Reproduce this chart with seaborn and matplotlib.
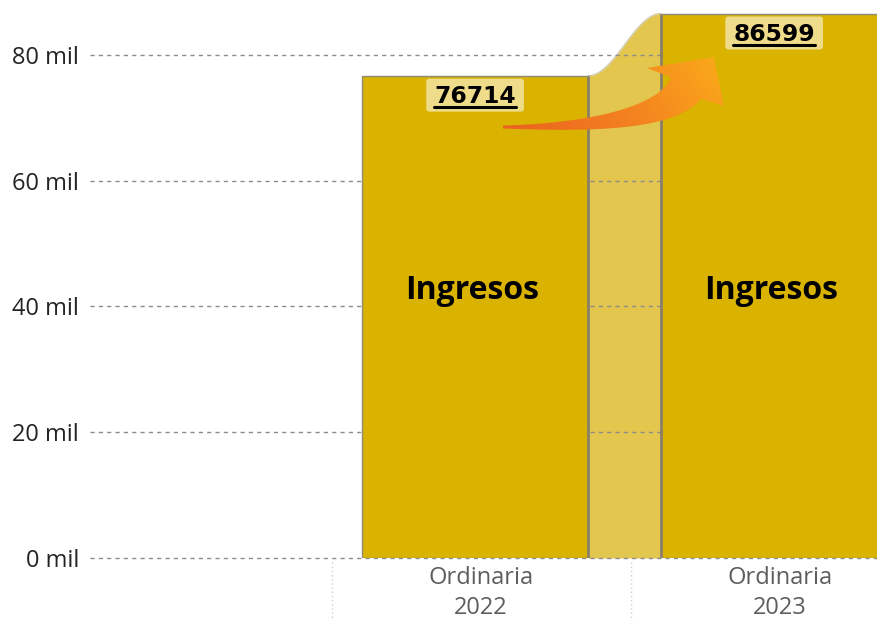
import numpy as np
import matplotlib
matplotlib.use("Agg")
import matplotlib.pyplot as plt
import seaborn as sns
from matplotlib.patches import Polygon, FancyBboxPatch
from matplotlib.colors import LinearSegmentedColormap
from matplotlib.transforms import ScaledTranslation, blended_transform_factory, IdentityTransform
from matplotlib.lines import Line2D

# data
categories = ["Ordinaria\n2022", "Ordinaria\n2023"]
ingresos = [76714, 86599]
serie = "Ingresos"
y_ticks = [0, 20000, 40000, 60000, 80000]

sns.set_theme(style="white")
plt.rcParams["font.family"] = ["Open Sans", "DejaVu Sans"]

W, H = 877, 621
fig = plt.figure(figsize=(W / 100, H / 100), dpi=100)
ax = fig.add_axes([90 / W, 63 / H, 787 / W, 558 / H])

bar_w = 0.756
sns.barplot(x=categories, y=ingresos, color="#D9B300", saturation=1,
            width=bar_w, edgecolor="#8f8a78", linewidth=1.0, ax=ax, zorder=2)

# ribbon between the two bars
x0 = 0 + bar_w / 2
x1 = 1 - bar_w / 2
t = np.linspace(0, 1, 120)
xs = x0 + (x1 - x0) * t
ys = ingresos[0] + (ingresos[1] - ingresos[0]) * (1 - np.cos(np.pi * t)) / 2
ax.fill_between(xs, 0, ys, color="#E3C64E", lw=0, zorder=0.3)
ax.plot(xs, ys, color="#c8c2a6", lw=0.8, zorder=0.4)
ax.vlines([x0, x1], 0, ingresos, color="#8a8068", lw=2, zorder=3)

# grid / axes
ax.set_yticks(y_ticks)
ax.set_yticklabels([f"{v // 1000} mil" for v in y_ticks])
ax.yaxis.grid(True, ls=(0, (3, 3)), color="#8c8c8c", lw=1)
ax.xaxis.grid(False)
ax.set_axisbelow(True)
for gl in ax.get_ygridlines():
    gl.set_clip_on(False)
sns.despine(ax=ax, left=True, bottom=True)
ax.tick_params(axis="y", length=0, pad=8, labelsize=17, labelcolor="#252423")
ax.tick_params(axis="x", length=0, pad=6, labelsize=17, labelcolor="#605E5C")
for lbl in ax.get_xticklabels():
    lbl.set_transform(lbl.get_transform() + ScaledTranslation(6 / 100, 0, fig.dpi_scale_trans))
    lbl.set_linespacing(1.33)
ax.set_xlabel("")
ax.set_ylabel("")

# separators under the axis
trans = blended_transform_factory(ax.transData, ax.transAxes)
for xv in [-0.48, 0.52]:
    ax.plot([xv, xv], [-0.008, -0.12], transform=trans, clip_on=False,
            color="#d0d0d0", ls=(0, (1, 2)), lw=1)

# series labels
for i, v in enumerate(ingresos):
    ax.text(i - 0.01, 42600, serie, ha="center", va="center",
            fontsize=23, fontweight="bold", color="black", zorder=5)

ax.set_xlim(-1.288, 1.344)
ax.set_ylim(0, 88747)

# curved gradient arrow (decoration), built in pixel space
def px(x, y):
    return np.array([x, H - y], dtype=float)

p0, c, p2 = px(503, 127), px(658, 128), px(686, 88)
tt = np.linspace(0, 1, 80)[:, None]
centre = (1 - tt) ** 2 * p0 + 2 * tt * (1 - tt) * c + tt ** 2 * p2
tang = 2 * (1 - tt) * (c - p0) + 2 * tt * (p2 - c)
tang /= np.linalg.norm(tang, axis=1, keepdims=True)
norm = np.column_stack([-tang[:, 1], tang[:, 0]])
half = (1.5 + 17.5 * tt[:, 0] ** 1.2)[:, None]
upper = centre + norm * half
lower = centre - norm * half
head = np.array([px(647, 68), px(714, 57), px(724, 106)])
pts = np.vstack([upper, head, lower[::-1]])
arrow = Polygon(pts, closed=True, transform=IdentityTransform(), fc="none", ec="none")
fig.add_artist(arrow)
cmap = LinearSegmentedColormap.from_list("arr", ["#EA5A22", "#F4841F", "#FDB918"])
gx, gy = np.meshgrid(np.linspace(0, 1, 260), np.linspace(0, 1, 120))
grad = 0.75 * gx + 0.25 * gy
gim = fig.figimage(grad, xo=490, yo=H - 150, cmap=cmap, origin="lower", zorder=4)
gim.set_clip_path(arrow)

# value labels: box + bold text + underline
fig.canvas.draw()
r = fig.canvas.get_renderer()
for i, v in enumerate(ingresos):
    bx, by = ax.transData.transform((i, v))
    base = by - 27
    tx = fig.text(bx / W, base / H, str(v), ha="center", va="baseline",
                  fontsize=16.8, fontweight="bold", family="DejaVu Sans",
                  color="black", zorder=7)
    bb = tx.get_window_extent(r)
    box = FancyBboxPatch((bb.x0 - 8, base - 9), bb.width + 16, 33,
                         boxstyle="round,pad=0,rounding_size=3",
                         transform=IdentityTransform(), fc="#EEDC8A", ec="none", zorder=6)
    fig.add_artist(box)
    fig.add_artist(Line2D([bb.x0, bb.x1], [base - 4, base - 4],
                          transform=IdentityTransform(), color="black", lw=2.2, zorder=8))

fig.savefig("out.png", dpi=100)
